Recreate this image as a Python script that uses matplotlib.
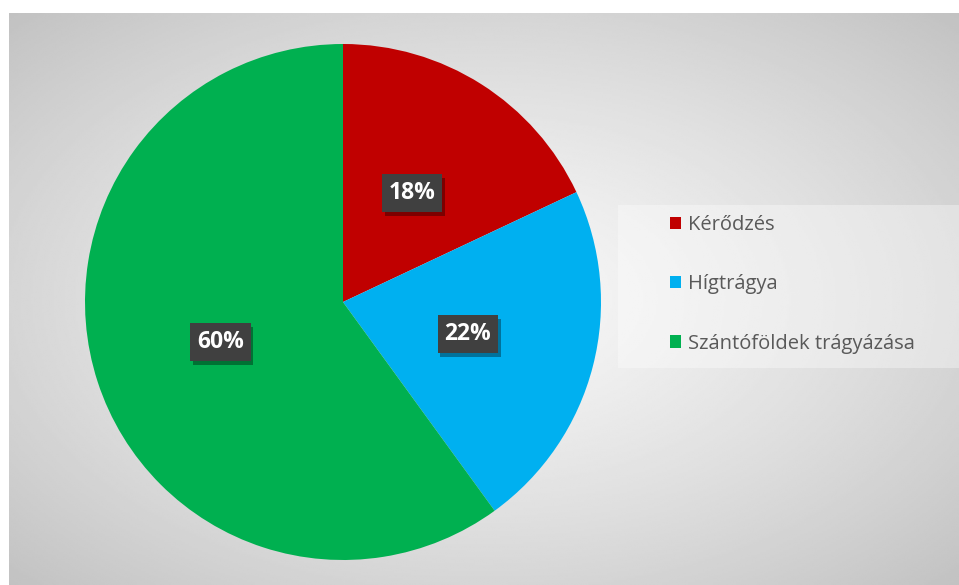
import numpy as np
import matplotlib.pyplot as plt
from matplotlib.patches import Rectangle
from matplotlib.patheffects import withSimplePatchShadow

# share of each source
labels = ['Kérődzés', 'Hígtrágya', 'Szántóföldek trágyázása']
shares = [18, 22, 60]
colors = ['#C00000', '#00B0F0', '#00B050']

plt.rcParams['font.family'] = ['Open Sans', 'DejaVu Sans']

W, H = 959, 585
fig = plt.figure(figsize=(W / 100, H / 100), dpi=100)

# grey radial gradient panel behind the chart
bg = fig.add_axes([9 / W, 0, (W - 9) / W, (H - 13) / H])
yy, xx = np.mgrid[-1:1:300j, -1:1:500j]
rr = np.sqrt(xx ** 2 + yy ** 2) / np.sqrt(2)
bg.imshow(0.97 - 0.21 * rr ** 1.3, cmap='gray', vmin=0, vmax=1,
          aspect='auto', extent=(0, 1, 0, 1), interpolation='bilinear')
bg.set_axis_off()

# lighter band behind the legend
fig.patches.append(Rectangle((618 / W, (H - 368) / H), (W - 618) / W, 163 / H,
                             transform=fig.transFigure, facecolor='white',
                             alpha=0.35, edgecolor='none', zorder=1))

cx, cy, r = 343, 302, 258
ax = fig.add_axes([(cx - r) / W, (H - cy - r) / H, 2 * r / W, 2 * r / H])
wedges, texts, autotexts = ax.pie(
    shares, colors=colors, startangle=90, counterclock=False,
    autopct='%1.0f%%', pctdistance=0.5,
    wedgeprops=dict(edgecolor='none'))
ax.set_xlim(-1, 1)
ax.set_ylim(-1, 1)

for t in autotexts:
    t.set(color='white', fontsize=16.5, fontweight='bold')
    t.set_bbox(dict(boxstyle='square,pad=0.3', facecolor='#404040',
                    edgecolor='none'))
    # soft drop shadow under each label box
    t.get_bbox_patch().set_path_effects(
        [withSimplePatchShadow(offset=(2, -3), shadow_rgbFace='black', alpha=0.35)])

handles = [Rectangle((0, 0), 1, 1, facecolor=c, edgecolor='none') for c in colors]
leg = fig.legend(handles, labels, loc='upper left',
                 bbox_to_anchor=(652 / W, (H - 197) / H), frameon=False,
                 fontsize=14.5, handlelength=0.55, handleheight=0.55,
                 handletextpad=0.35, labelspacing=1.95)
for txt in leg.get_texts():
    txt.set_color('#595959')

fig.savefig('out.png', dpi=100, facecolor='white')
